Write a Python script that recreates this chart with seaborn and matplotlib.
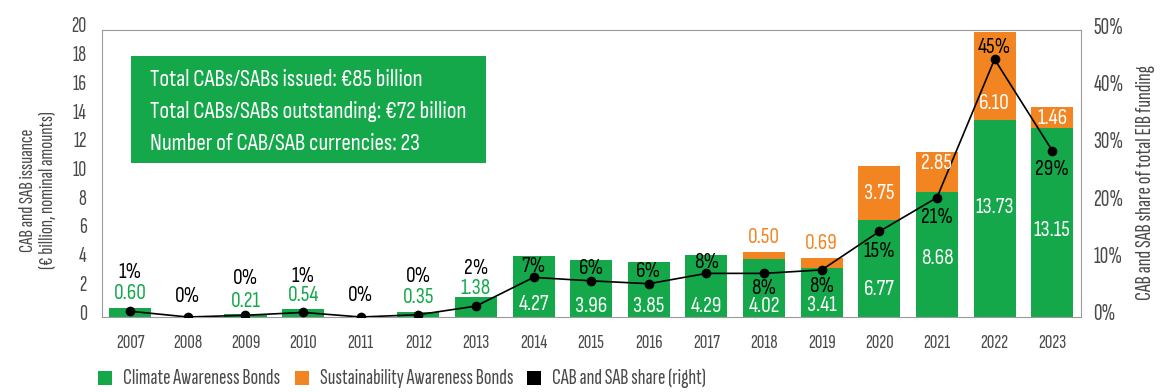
import numpy as np
import pandas as pd
import matplotlib
matplotlib.use("Agg")
import matplotlib.pyplot as plt
import matplotlib.transforms as mtransforms
from matplotlib.patches import Rectangle
import seaborn as sns

# ---- data -------------------------------------------------------------
years = ["2007", "2008", "2009", "2010", "2011", "2012", "2013", "2014", "2015",
         "2016", "2017", "2018", "2019", "2020", "2021", "2022", "2023"]
cab = [0.60, 0.0, 0.21, 0.54, 0.0, 0.35, 1.38, 4.27, 3.96,
       3.85, 4.29, 4.02, 3.41, 6.77, 8.68, 13.73, 13.15]
sab = [0.0, 0.0, 0.0, 0.0, 0.0, 0.0, 0.0, 0.0, 0.0,
       0.0, 0.0, 0.50, 0.69, 3.75, 2.85, 6.10, 1.46]
share = [1.0, 0.0, 0.3, 0.8, 0.0, 0.4, 1.9, 6.9, 6.3,
         5.8, 7.6, 7.6, 8.2, 14.9, 20.8, 44.9, 29.0]
left_ticks = [0, 2, 4, 6, 8, 10, 12, 14, 16, 18, 20]
right_ticks = [0, 10, 20, 30, 40, 50]
summary_lines = ["Total CABs/SABs issued: €85 billion",
                 "Total CABs/SABs outstanding: €72 billion",
                 "Number of CAB/SAB currencies: 23"]
legend_labels = ["Climate Awareness Bonds", "Sustainability Awareness Bonds",
                 "CAB and SAB share (right)"]

# ---- label placement (left-axis units) --------------------------------
cab_label_y = [1.67, None, 1.11, 1.48, None, 1.34, 1.97, 0.84, 0.70,
               0.70, 0.73, 0.70, 0.79, 1.95, 4.10, 7.65, 6.00]
sab_label_y = [None] * 11 + [5.56, 5.15, 8.60, 10.70, 14.90, 13.80]
share_label_y = [3.07, 1.46, 2.65, 2.79, 1.53, 2.79, 3.35, 3.55, 3.41,
                 3.14, 3.83, 2.02, 2.16, 4.53, 6.90, 18.80, 10.30]

GREEN = "#14A84B"
ORANGE = "#F28522"
GREY_TXT = "#4a4a4a"
NARROW = ["Sofia Sans Extra Condensed", "Sofia Sans Condensed", "DejaVu Sans"]
COND = ["Sofia Sans Condensed", "DejaVu Sans"]

sns.set_theme(style="white")
plt.rcParams["font.family"] = NARROW

df = pd.DataFrame({"year": years, "cab": cab, "sab": sab, "share": share})
df["total"] = df["cab"] + df["sab"]

W, H = 1161, 392
fig = plt.figure(figsize=(W / 100, H / 100), dpi=100)
ax = fig.add_axes([102 / W, 1 - 317 / H, (1081 - 102) / W, (317 - 30) / H])

# stacked bars: total (orange) drawn first, CAB (green) on top of it
sns.barplot(data=df, x="year", y="total", color=ORANGE, saturation=1,
            width=0.73, ax=ax, order=years)
sns.barplot(data=df, x="year", y="cab", color=GREEN, saturation=1,
            width=0.73, ax=ax, order=years)
for p in ax.patches:
    p.set_linewidth(0)

ax.set_xlim(-0.49, 16.5)
ax.set_ylim(0, 20)
ax.set_yticks(left_ticks)
ax.set_yticklabels([str(t) for t in left_ticks])
ax.set_xlabel("")
ax.set_ylabel("CAB and SAB issuance\n(€ billion, nominal amounts)",
              fontsize=15, color=GREY_TXT, linespacing=1.15)
ax.yaxis.set_label_coords(-0.046, 0.442)
ax.tick_params(axis="y", length=0, labelsize=16, labelcolor=GREY_TXT, pad=11)
ax.tick_params(axis="x", length=0, labelsize=15, labelcolor=GREY_TXT, pad=12)

for s in ax.spines.values():
    s.set_visible(True)
    s.set_color("#9a9a9a")
    s.set_linestyle((0, (1, 1)))
    s.set_linewidth(0.8)

# share of total funding on the right axis
ax2 = ax.twinx()
xpos = np.arange(len(years))
sns.lineplot(x=xpos, y=df["share"], ax=ax2, color="black", linewidth=1.2,
             marker="o", markersize=7, markeredgewidth=0, legend=False)
ax2.set_ylim(0, 50)
ax2.set_xlim(-0.49, 16.5)
ax2.set_yticks(right_ticks)
ax2.set_yticklabels([f"{t}%" for t in right_ticks])
ax2.set_ylabel("CAB and SAB share of total EIB funding", fontsize=16.3,
               color=GREY_TXT)
ax2.yaxis.set_label_coords(1.056, 0.467)
ax2.tick_params(axis="y", length=0, labelsize=17, labelcolor=GREY_TXT, pad=9)
for s in ax2.spines.values():
    s.set_visible(False)
ax2.grid(False)
ax.grid(False)

# lift tick labels slightly above their tick position
lift = mtransforms.ScaledTranslation(0, 5 / 100, fig.dpi_scale_trans)
for lab in ax.get_yticklabels() + ax2.get_yticklabels():
    lab.set_transform(lab.get_transform() + lift)

# value labels
for i in range(len(years)):
    if cab_label_y[i] is not None:
        col = GREEN if cab[i] < 2 else "white"
        ax2.annotate(f"{cab[i]:.2f}", xy=(i, cab_label_y[i] * 2.5), ha="center",
                     va="center", fontsize=15.5, color=col, zorder=5, family=COND)
    if sab_label_y[i] is not None:
        col = ORANGE if sab[i] < 1 else "white"
        ax2.annotate(f"{sab[i]:.2f}", xy=(i, sab_label_y[i] * 2.5), ha="center",
                     va="center", fontsize=15.5, color=col, zorder=5, family=COND)
    ax2.annotate(f"{share[i]:.0f}%", xy=(i, share_label_y[i] * 2.5), ha="center",
                 va="center", fontsize=15.5, color="black", zorder=5, family=COND)

# summary box
box_l, box_b = 131 / W, 1 - 163 / H
box_w, box_h = (486 - 131) / W, (163 - 56) / H
fig.patches.append(Rectangle((box_l, box_b), box_w, box_h, transform=fig.transFigure,
                             facecolor=GREEN, edgecolor="none", zorder=3))
for k, line in enumerate(summary_lines):
    fig.text(150 / W, 1 - (80 + k * 31.5) / H, line, color="white",
             fontsize=16.8, va="center", ha="left", zorder=4, family=COND)

# legend row: colour key squares followed by their labels
key_x = [98, 295, 527]
for x0, col, lab in zip(key_x, (GREEN, ORANGE, "black"), legend_labels):
    fig.patches.append(Rectangle((x0 / W, 1 - 385 / H), 14 / W, 14 / H,
                                 transform=fig.transFigure, facecolor=col,
                                 edgecolor="none"))
    fig.text((x0 + 25) / W, 1 - 378 / H, lab, color=GREY_TXT, fontsize=16.2,
             va="center", ha="left")

fig.savefig("out.png", dpi=100)
